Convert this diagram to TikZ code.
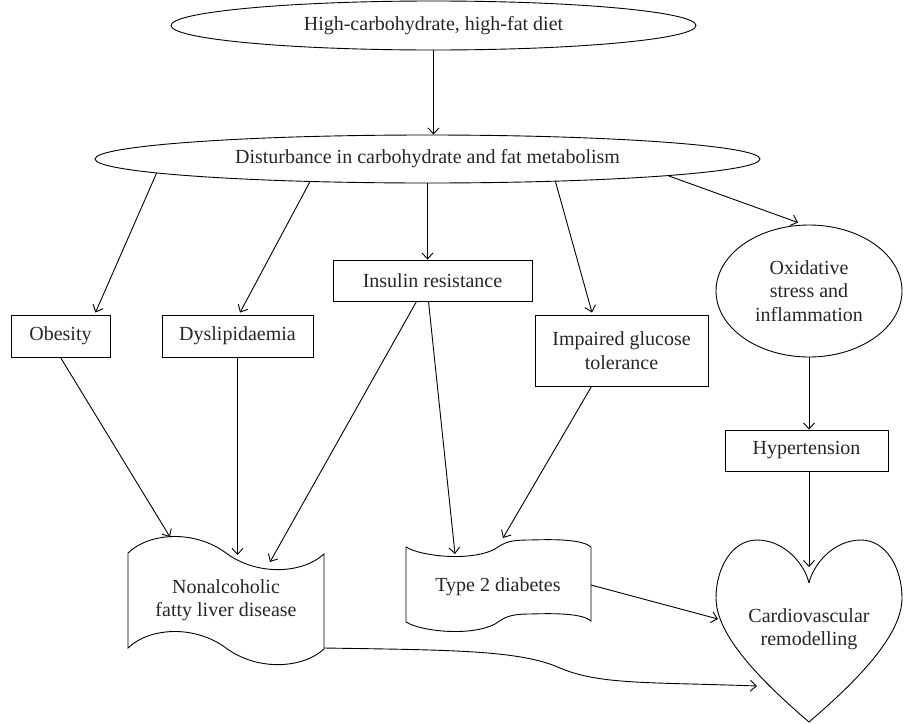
\documentclass[tikz,border=0pt]{standalone}
\usepackage{fontspec}
\setmainfont{Liberation Serif}
\usetikzlibrary{shapes.geometric,arrows.meta,calc}
\begin{document}
\begin{tikzpicture}[x=1pt,y=-1pt,
  every node/.style={font=\fontsize{20}{23.5}\selectfont, text=black!85},
  ln/.style={line width=0.9pt, draw=black},
  arr/.style={ln,-{Straight Barb[length=6pt,width=11pt]}},
  ell/.style={ln,ellipse,inner sep=0pt,align=center},
  box/.style={ln,rectangle,inner sep=0pt,align=center}]
\useasboundingbox (0,0) rectangle (904,723);

% nodes
\node[ell,minimum width=525,minimum height=49] (top) at (433.5,25.5) {High-carbohydrate, high-fat diet};
\node[ell,minimum width=665,minimum height=48] (dist) at (427.5,159) {Disturbance in carbohydrate and fat metabolism};
\node[box,minimum width=99,minimum height=42] (obes) at (60.5,336) {Obesity};
\node[box,minimum width=151,minimum height=42] (dysl) at (237.5,336) {Dyslipidaemia};
\node[box,minimum width=199,minimum height=41] (insr) at (432.5,280.5) {Insulin resistance};
\node[box,minimum width=173,minimum height=71] (igt) at (621.5,350.5) {Impaired glucose\\tolerance};
\node[ell,minimum width=186,minimum height=132] (oxid) at (809,291) {Oxidative\\stress and\\inflammation};
\node[box,minimum width=163,minimum height=41] (hyper) at (806.5,450.5) {Hypertension};

% NAFLD banner
\draw[ln] (128,553) .. controls (150,532) and (195,530) .. (226,553)
  .. controls (257,576) and (302,574) .. (324,554) -- (324,649)
  .. controls (302,669) and (257,671) .. (226,648)
  .. controls (195,625) and (150,627) .. (128,648) -- cycle;
\node[align=center] (nafld) at (226,600) {Nonalcoholic\\fatty liver disease};
\coordinate (nA) at (170,537);
\coordinate (nB) at (237.5,555);
\coordinate (nC) at (270,562);
\coordinate (nR) at (324,648);

% Type 2 diabetes banner
\draw[ln] (406,547) .. controls (420,556) and (470,562) .. (495,549)
  .. controls (505,542) and (510,540) .. (530,540)
  .. controls (560,539) and (583,540) .. (591,547) -- (591,621)
  .. controls (583,614) and (560,613) .. (530,614)
  .. controls (510,614) and (505,617) .. (495,624)
  .. controls (470,637) and (420,631) .. (406,622) -- cycle;
\node (t2d) at (498,587) {Type 2 diabetes};
\coordinate (tA) at (455,554);
\coordinate (tB) at (503,538);
\coordinate (tR) at (591,585);

% Heart
\draw[ln] (809,583) .. controls (805,565) and (785,540) .. (757,540)
  .. controls (732,540) and (716,568) .. (716,598)
  .. controls (716,635) and (760,680) .. (809,722)
  .. controls (858,680) and (902,635) .. (902,598)
  .. controls (902,568) and (886,540) .. (861,540)
  .. controls (833,540) and (813,565) .. (809,583);
\node[align=center] (cvr) at (809,629) {Cardiovascular\\remodelling};
\coordinate (hN) at (809,567);
\coordinate (hL) at (718,619);
\coordinate (hB) at (757,686);

% connectors
\draw[arr] (top.south) -- (top.south |- dist.north);
\draw[arr] (dist.183.4) -- ($(obes.north east)+(-15,-2)$);
\draw[arr] (dist.191.5) -- ($(dysl.north)+(2.5,-2)$);
\draw[arr] (dist.south) -- (dist.south |- insr.north);
\draw[arr] (dist.350.65) -- ($(igt.north)+(-29.5,-2)$);
\draw[arr] (dist.356.7) -- ($(oxid.north)+(-11,-2)$);

\draw[arr] (obes.south) -- (nA);
\draw[arr] (dysl.south) -- (nB);
\draw[arr] ($(insr.south)+(-16,0)$) -- (nC);
\draw[arr] ($(insr.south)+(-4,0)$) -- (tA);
\draw[arr] ($(igt.south)+(-30,0)$) -- (tB);
\draw[arr] (oxid.south) -- (oxid.south |- hyper.north);
\draw[arr] (hyper.south -| hN) -- (hN);
\draw[arr] (tR) -- (hL);
\draw[arr] (nR) .. controls (450,650) and (520,650) .. (560,668)
  .. controls (600,685) and (650,682) .. (hB);
\end{tikzpicture}
\end{document}
